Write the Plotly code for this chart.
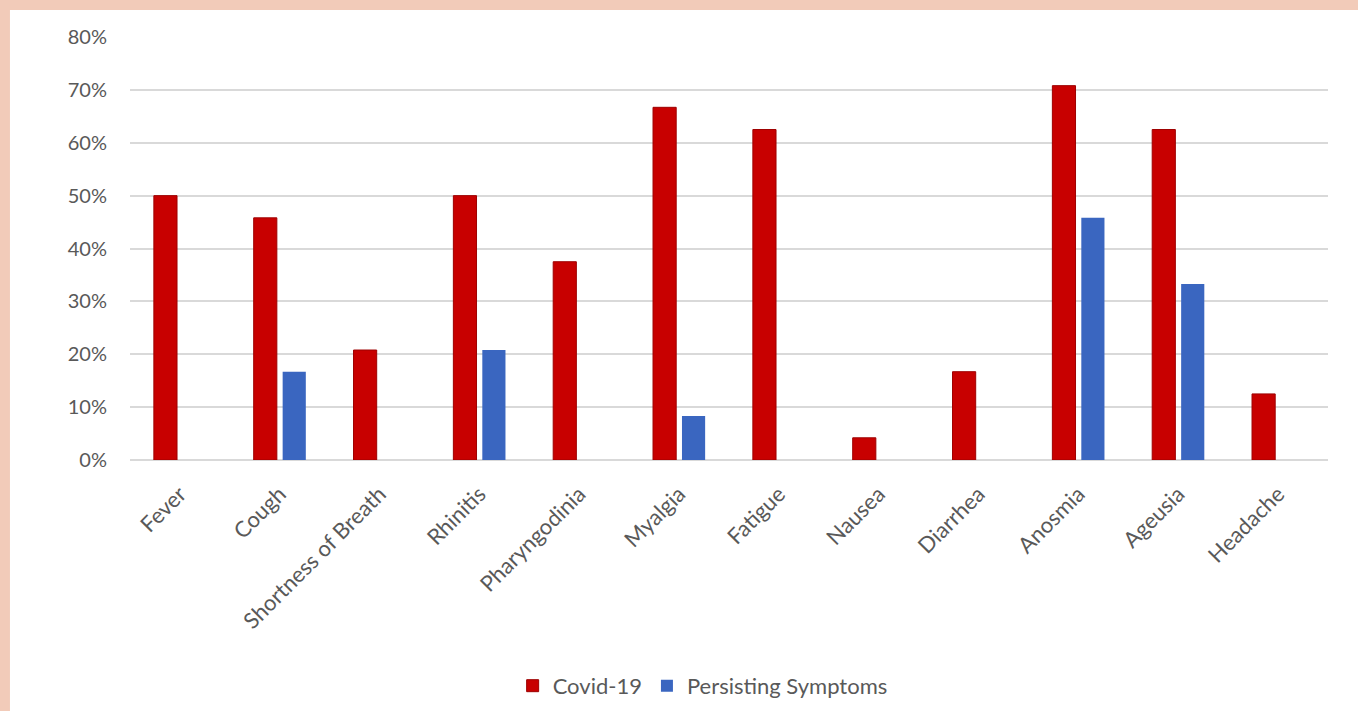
import plotly.graph_objects as go

# Symptom frequencies (share of patients)
symptoms = ["Fever", "Cough", "Shortness of Breath", "Rhinitis", "Pharyngodinia",
            "Myalgia", "Fatigue", "Nausea", "Diarrhea", "Anosmia", "Ageusia", "Headache"]
covid19 = [0.500, 0.458, 0.208, 0.500, 0.375, 0.667, 0.625, 0.042, 0.167, 0.708, 0.625, 0.125]
persisting = [0, 0.167, 0, 0.208, 0, 0.083, 0, 0, 0, 0.458, 0.333, 0]

y_ticks = [0, 0.1, 0.2, 0.3, 0.4, 0.5, 0.6, 0.7, 0.8]
y_ticktext = ["0%", "10%", "20%", "30%", "40%", "50%", "60%", "70%", "80%"]

FONT = "Lato, 'Open Sans', sans-serif"
TEXT = "#595959"
GRID = "#D9D9D9"

fig = go.Figure()
fig.add_trace(go.Bar(
    x=symptoms, y=covid19, name="Covid-19",
    marker=dict(color="#C80000", line=dict(color="#9E0000", width=1)),
))
fig.add_trace(go.Bar(
    x=symptoms, y=persisting, name="Persisting Symptoms",
    marker=dict(color="#3A66C0", line=dict(color="#3A66C0", width=0)),
))

# peach frame strips along the top and left edges
peach = "#F2CBB9"
fig.add_shape(type="rect", xref="paper", yref="paper",
              x0=-0.12, x1=1.05, y0=1.0638, y1=1.2, fillcolor=peach,
              line=dict(width=0), layer="below")
fig.add_shape(type="rect", xref="paper", yref="paper",
              x0=-0.12, x1=-0.1002, y0=-0.7, y1=1.2, fillcolor=peach,
              line=dict(width=0), layer="below")

fig.update_layout(
    width=1358, height=711,
    margin=dict(l=130, r=30, t=37, b=251, autoexpand=False),
    paper_bgcolor="white", plot_bgcolor="white",
    barmode="group", bargap=0.42, bargroupgap=0.2,
    font=dict(family=FONT, color=TEXT),
    showlegend=True,
    legend=dict(orientation="h", x=0.478, xanchor="center", y=-0.534, yanchor="middle",
                font=dict(size=22, color=TEXT), itemwidth=30, traceorder="normal"),
)
fig.update_xaxes(
    automargin=False,
    showgrid=False, showline=False, ticks="", tickangle=-45,
    ticklabelstandoff=16,
    tickfont=dict(size=22, color=TEXT, family=FONT),
)
fig.update_yaxes(
    automargin=False,
    range=[0, 0.8], tickvals=y_ticks, ticktext=y_ticktext,
    showgrid=True, gridcolor=GRID, gridwidth=1.5,
    zeroline=True, zerolinecolor=GRID, zerolinewidth=1.5,
    showline=False, ticks="", ticklabelstandoff=22,
    tickfont=dict(size=20, color=TEXT, family=FONT),
)

fig.write_html("out.html")
